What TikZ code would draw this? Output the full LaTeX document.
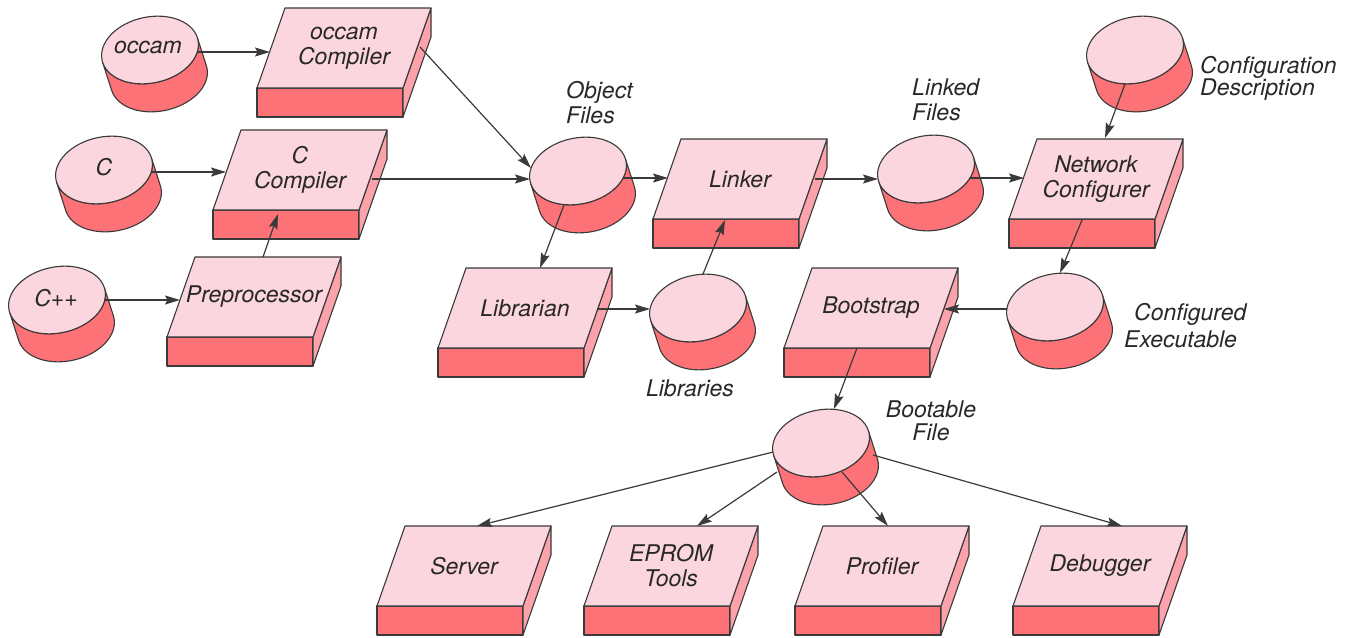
\documentclass[tikz,border=0pt]{standalone}
\usepackage{fontspec}
\setmainfont{TeX Gyre Heros}
\usetikzlibrary{arrows.meta,calc}

\definecolor{facetop}{RGB}{251,214,222}
\definecolor{facefront}{RGB}{252,114,118}
\definecolor{faceside}{RGB}{251,162,170}
\definecolor{edge}{RGB}{58,58,58}
\definecolor{ink}{RGB}{40,40,40}

\tikzset{
  outline/.style={draw=edge, line width=1.1pt, line join=round},
  topface/.style={outline, fill=facetop},
  frontface/.style={outline, fill=facefront},
  sideface/.style={outline, fill=faceside},
  lbl/.style={text=ink, font=\fontsize{23}{25}\selectfont\itshape, inner sep=0pt, align=center},
  flow/.style={draw=edge, line width=1.2pt, -{Stealth[length=15pt,width=9pt,inset=2.5pt]}},
}

% slanted slab: name, lower-left corner of the top face, label
\newcommand\boxslab[4]{%
  \begin{scope}[shift={(#2,#3)}]
    \path[frontface] (0,0) rectangle (146,29);
    \path[sideface] (146,0) -- (174,-80) -- (174,-51) -- (146,29) -- cycle;
    \path[topface] (0,0) -- (28,-80) -- (174,-80) -- (146,0) -- cycle;
    \node[lbl] (#1) at (87,-40) {#4};
  \end{scope}}

% tilted drum: name, centre of the top ellipse
\newcommand\diskdrum[3]{%
  \begin{scope}[shift={(#2,#3)}, rotate=12]
    \path[frontface] (-3.9:49 and 33) -- ++(2.98,29.26)
      arc[start angle=-3.9, end angle=176.1, x radius=49, y radius=33]
      -- ++(-2.98,-29.26)
      arc[start angle=176.1, end angle=-3.9, x radius=49, y radius=33] -- cycle;
    \path[topface] (0,0) ellipse[x radius=49, y radius=33];
  \end{scope}
  \coordinate (#1) at (#2,#3);}

\begin{document}
\begin{tikzpicture}[x=1pt,y=-1pt]
\useasboundingbox (0,0) rectangle (1346,637);

% processing stages
\boxslab{occC}{257}{88}{occam\\Compiler}
\boxslab{cC}{213}{210}{C\\Compiler}
\boxslab{pre}{167}{337}{Preprocessor}
\boxslab{link}{653}{219}{Linker}
\boxslab{lib}{438}{348}{Librarian}
\boxslab{net}{1009}{219}{Network\\Configurer}
\boxslab{boot}{784}{348}{Bootstrap}
\boxslab{serv}{377}{606}{Server}
\boxslab{eprom}{584}{606}{EPROM\\Tools}
\boxslab{prof}{795}{606}{Profiler}
\boxslab{dbg}{1013}{606}{Debugger}

% files
\diskdrum{occam}{150}{50}
\diskdrum{cfile}{104}{170}
\diskdrum{cpp}{57}{300}
\diskdrum{obj}{578}{171}
\diskdrum{libs}{698}{308}
\diskdrum{linked}{926}{169}
\diskdrum{cdesc}{1135}{50}
\diskdrum{cexe}{1055}{307}
\diskdrum{bootf}{821}{443}

\node[lbl] (occamtxt) at ($(occam)+(-2,-3)$) {occam};
\node[lbl] (ctxt) at ($(cfile)+(0,-3)$) {C};
\node[lbl] (cpptxt) at ($(cpp)+(-1,-2)$) {C++};

% file captions
\node[lbl, align=left, anchor=west] (objlbl) at (566,103) {Object\\Files};
\node[lbl, align=left, anchor=west] (linklbl) at (912,100) {Linked\\Files};
\node[lbl, align=left, anchor=west, font=\fontsize{23}{22}\selectfont\itshape] (cdesclbl) at (1200,78) {Configuration\\Description};
\node[lbl, align=left, anchor=west, font=\fontsize{23}{27}\selectfont\itshape] (cexelbl) at (1134,326) {Configured\\\hspace*{-10pt}Executable};
\node[lbl] (libslbl) at (690,388) {Libraries};
\node[lbl, font=\fontsize{23}{23}\selectfont\itshape] (bootflbl) at (931,421) {Bootable\\File};

% data flow
\draw[flow] ($(occam)+(47,2)$) -- ($(occC)+(-74,4)$);
\draw[flow] ($(occC)+(76,-1)$) -- ($(obj)+(-47,-3)$);
\draw[flow] ($(cfile)+(47,2)$) -- ($(cC)+(-74,2)$);
\draw[flow] ($(cC)+(72,9)$) -- ($(obj)+(-48,8)$);
\draw[flow] ($(cpp)+(47,0)$) -- ($(pre)+(-74,3)$);
\draw[flow] ($(pre)+(9,-40)$) -- ($(cC)+(-22,44)$);
\draw[flow] ($(obj)+(-14,34)$) -- ($(lib)+(15,-40)$);
\draw[flow] ($(lib)+(72,1)$) -- ($(libs)+(-48,1)$);
\draw[flow] ($(libs)+(5,-34)$) -- ($(link)+(-15,41)$);
\draw[flow] ($(obj)+(45,7)$) -- ($(link)+(-72,-1)$);
\draw[flow] ($(link)+(75,0)$) -- ($(linked)+(-48,10)$);
\draw[flow] ($(linked)+(44,9)$) -- ($(net)+(-72,-1)$);
\draw[flow] ($(cdesc)+(-10,34)$) -- ($(net)+(9,-41)$);
\draw[flow] ($(net)+(-14,41)$) -- ($(cexe)+(5,-34)$);
\draw[flow] ($(cexe)+(-48,2)$) -- ($(boot)+(73,1)$);
\draw[flow] ($(boot)+(-14,40)$) -- ($(bootf)+(13,-34)$);
\draw[flow] ($(bootf)+(-48,9)$) -- ($(serv)+(13,-40)$);
\draw[flow] ($(bootf)+(-44,29)$) -- ($(eprom)+(26,-40)$);
\draw[flow] ($(bootf)+(21,29)$) -- ($(prof)+(6,-40)$);
\draw[flow] ($(bootf)+(52,12)$) -- ($(dbg)+(22,-40)$);
\end{tikzpicture}
\end{document}
